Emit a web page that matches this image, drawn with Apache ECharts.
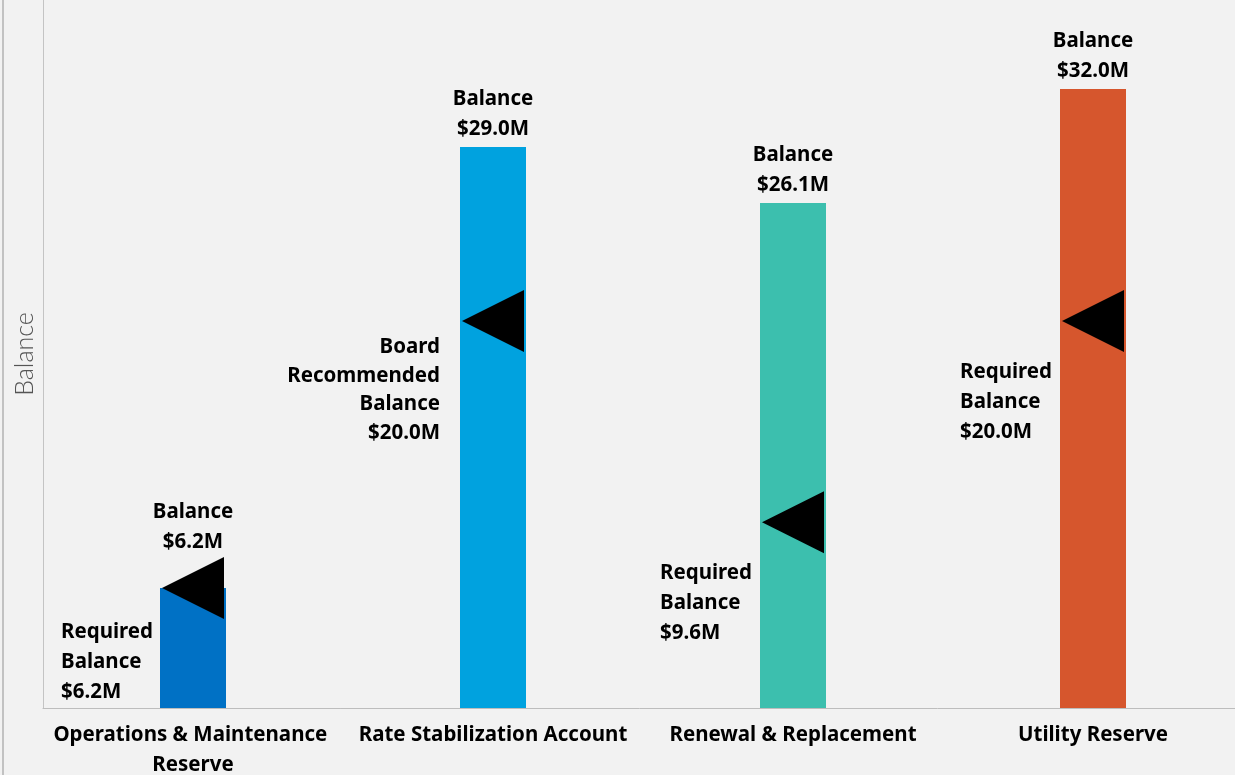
<!DOCTYPE html>
<html>
<head>
<meta charset="utf-8">
<style>
  html, body { margin: 0; padding: 0; background: #f2f2f2; }
  #chart { width: 1235px; height: 775px; }
</style>
<script src="https://cdn.jsdelivr.net/npm/echarts@6/dist/echarts.min.js"></script>
</head>
<body>
<div id="chart"></div>
<script>
// reserve fund balances ($M)
var categories = ['Operations & Maintenance Reserve', 'Rate Stabilization Account', 'Renewal & Replacement', 'Utility Reserve'];
var balances = [6.2, 29.0, 26.1, 32.0];
var required = [6.2, 20.0, 9.6, 20.0];
var requiredNames = ['Required\nBalance', 'Board\nRecommended\nBalance', 'Required\nBalance', 'Required\nBalance'];
var barColors = ['#0071c5', '#00a2df', '#3cbfae', '#d6562d'];

var FONT = '"Noto Sans", sans-serif';
var FONT_SIZE = 20.5;

function money(v) {
    return '$' + v.toFixed(1) + 'M';
}

var chart = echarts.init(document.getElementById('chart'));

// 标签位置：三行标签左对齐，董事会那一项右对齐
var labelPlace = [
    { align: 'left', offset: [-101, 74] },
    { align: 'right', offset: [-22, 69], lineHeight: 28.5 },
    { align: 'left', offset: [-102, 81] },
    { align: 'left', offset: [-102, 81] }
];

var option = {
    backgroundColor: '#f2f2f2',
    animation: false,
    grid: { left: 43, top: 0, right: -8, bottom: 67, outerBoundsMode: 'none' },
    graphic: [
        { type: 'rect', left: 2, top: 0, shape: { width: 2, height: 775 }, style: { fill: '#c2c2c2' } }
    ],
    xAxis: {
        type: 'category',
        data: categories,
        axisTick: { show: false },
        axisLine: { lineStyle: { color: '#bdbdbd', width: 1 } },
        axisLabel: {
            interval: 0,
            margin: 12,
            color: '#000',
            fontFamily: FONT,
            fontWeight: 'bold',
            fontSize: FONT_SIZE,
            lineHeight: 30,
            width: 290,
            overflow: 'break'
        }
    },
    yAxis: {
        type: 'value',
        min: 0,
        max: 36.6,
        name: 'Balance',
        nameLocation: 'middle',
        nameGap: 6,
        nameTextStyle: { color: '#555', fontFamily: 'Lato, sans-serif', fontWeight: 300, fontSize: 25 },
        axisLine: { show: true, lineStyle: { color: '#c4c4c4', width: 1 } },
        axisTick: { show: false },
        axisLabel: { show: false },
        splitLine: { show: false }
    },
    series: [
        {
            type: 'bar',
            barWidth: 66,
            data: balances.map(function (v, i) {
                var item = { value: v, itemStyle: { color: barColors[i] } };
                // 第一个柱子的标签被三角形挡住，往上挪
                if (i === 0) item.label = { distance: 31 };
                return item;
            }),
            label: {
                show: true,
                position: 'top',
                distance: 3,
                color: '#000',
                fontFamily: FONT,
                fontWeight: 'bold',
                fontSize: FONT_SIZE,
                lineHeight: 30,
                formatter: function (p) { return 'Balance\n' + money(p.value); }
            }
        },
        {
            type: 'scatter',
            symbol: 'path://M0,5L10,0L10,10Z',
            symbolSize: [62, 62],
            itemStyle: { color: '#000', opacity: 1 },
            data: required.map(function (v, i) {
                return {
                    value: [i, v],
                    label: labelPlace[i]
                };
            }),
            label: {
                show: true,
                position: 'left',
                distance: 0,
                color: '#000',
                fontFamily: FONT,
                fontWeight: 'bold',
                fontSize: FONT_SIZE,
                lineHeight: 30,
                formatter: function (p) {
                    return requiredNames[p.dataIndex] + '\n' + money(p.value[1]);
                }
            }
        }
    ]
};

chart.setOption(option);
</script>
</body>
</html>
